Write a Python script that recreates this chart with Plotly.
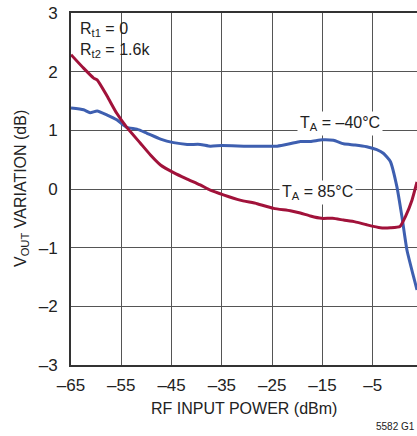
import plotly.graph_objects as go

# Data
x_m40 = [-65, -62.5, -61.2, -59.8, -57.8, -55.9, -53.9, -51.9, -49.9, -47.2, -44.6, -41.9,
         -39.3, -37.3, -35, -30, -26, -24, -21.5, -19.4, -17.4, -15, -12.8, -10.8, -8.5,
         -6.2, -4.2, -2.9, -1.5, -0.2, 0.8, 1.8, 3.1, 3.8]
y_m40 = [1.38, 1.35, 1.30, 1.33, 1.26, 1.18, 1.05, 1.02, 0.95, 0.85, 0.79, 0.76,
         0.76, 0.73, 0.74, 0.73, 0.73, 0.73, 0.77, 0.81, 0.81, 0.84, 0.83, 0.77, 0.75,
         0.72, 0.67, 0.61, 0.47, 0.04, -0.47, -1.04, -1.49, -1.72]

x_85 = [-65, -62.5, -60.5, -59.8, -57.8, -55.9, -53.9, -51.2, -49.2, -47.2, -44.6, -41.9,
        -39.3, -37.3, -34.7, -31.4, -28.0, -24.7, -21.4, -19.4, -17.4, -15.2, -13.0, -10.8,
        -8.5, -6.2, -3.5, -1.5, 0.4, 1.5, 2.8, 3.8]
y_85 = [2.29, 2.06, 1.89, 1.86, 1.58, 1.29, 1.05, 0.78, 0.58, 0.41, 0.28, 0.17,
        0.07, -0.02, -0.10, -0.19, -0.25, -0.33, -0.37, -0.41, -0.46, -0.50, -0.50, -0.53,
        -0.56, -0.61, -0.66, -0.66, -0.64, -0.47, -0.19, 0.12]

x_ticks = [-65, -55, -45, -35, -25, -15, -5, 5]
x_tick_labels = ["–65", "–55", "–45", "–35", "–25", "–15", "–5", "5"]
y_ticks = [-3, -2, -1, 0, 1, 2, 3]
y_tick_labels = ["–3", "–2", "–1", "0", "1", "2", "3"]

FONT = "Liberation Sans, Arial, sans-serif"
BLUE = "#3e5fb0"
RED = "#a1123a"
TXT = "#222"

fig = go.Figure()
fig.add_trace(go.Scatter(x=x_m40, y=y_m40, mode="lines",
                         line=dict(color=BLUE, width=3, shape="spline", smoothing=0.5),
                         showlegend=False))
fig.add_trace(go.Scatter(x=x_85, y=y_85, mode="lines",
                         line=dict(color=RED, width=3, shape="spline", smoothing=0.5),
                         showlegend=False))

fig.update_layout(
    width=417, height=436,
    margin=dict(l=71, r=0, t=13, b=71, autoexpand=False),
    paper_bgcolor="white", plot_bgcolor="white",
    font=dict(family=FONT, size=16, color=TXT),
    xaxis=dict(range=[-65, 3.8], tickvals=x_ticks, ticktext=x_tick_labels,
               showgrid=True, gridcolor="#555", gridwidth=1,
               showline=True, linecolor="#333", linewidth=2, mirror=True,
               ticks="", zeroline=False, ticklabelstandoff=4, automargin=False,
               tickfont=dict(family=FONT, size=17, color=TXT)),
    yaxis=dict(range=[-3, 3], tickvals=y_ticks, ticktext=y_tick_labels,
               showgrid=True, gridcolor="#555", gridwidth=1,
               showline=True, linecolor="#333", linewidth=2, mirror=False,
               ticks="", zeroline=False, ticklabelstandoff=8, automargin=False,
               tickfont=dict(family=FONT, size=17, color=TXT)),
)

# Axis titles as annotations
fig.add_annotation(x=0.5, y=0, xref="paper", yref="paper", yshift=-43,
                   text="RF INPUT POWER (dBm)", showarrow=False,
                   xanchor="center", yanchor="middle", font=dict(size=16))
fig.add_annotation(x=0, y=0.5, xref="paper", yref="paper", xshift=-50,
                   text="V<sub>OUT</sub> VARIATION (dB)", showarrow=False, textangle=-90,
                   xanchor="center", yanchor="middle", font=dict(size=16))

fig.add_annotation(x=-63.7, y=2.72, text="R<sub>t1</sub> = 0", showarrow=False,
                   xanchor="left", yanchor="middle", font=dict(size=16))
fig.add_annotation(x=-63.7, y=2.36, text="R<sub>t2</sub> = 1.6k", showarrow=False,
                   xanchor="left", yanchor="middle", font=dict(size=16))
fig.add_annotation(x=-11.5, y=1.12, text="T<sub>A</sub> = –40°C", showarrow=False,
                   bgcolor="white", borderpad=2, font=dict(size=16))
fig.add_annotation(x=-16.0, y=-0.06, text="T<sub>A</sub> = 85°C", showarrow=False,
                   bgcolor="white", borderpad=2, font=dict(size=16))
fig.add_annotation(x=1.0, y=0.0, xref="paper", yref="paper", yshift=-61,
                   text="5582 G1", showarrow=False, xanchor="right", yanchor="middle",
                   font=dict(size=10))

fig.write_html("out.html", config={"displayModeBar": False},
               post_script="document.body.style.margin='0';document.body.style.overflow='hidden';")
